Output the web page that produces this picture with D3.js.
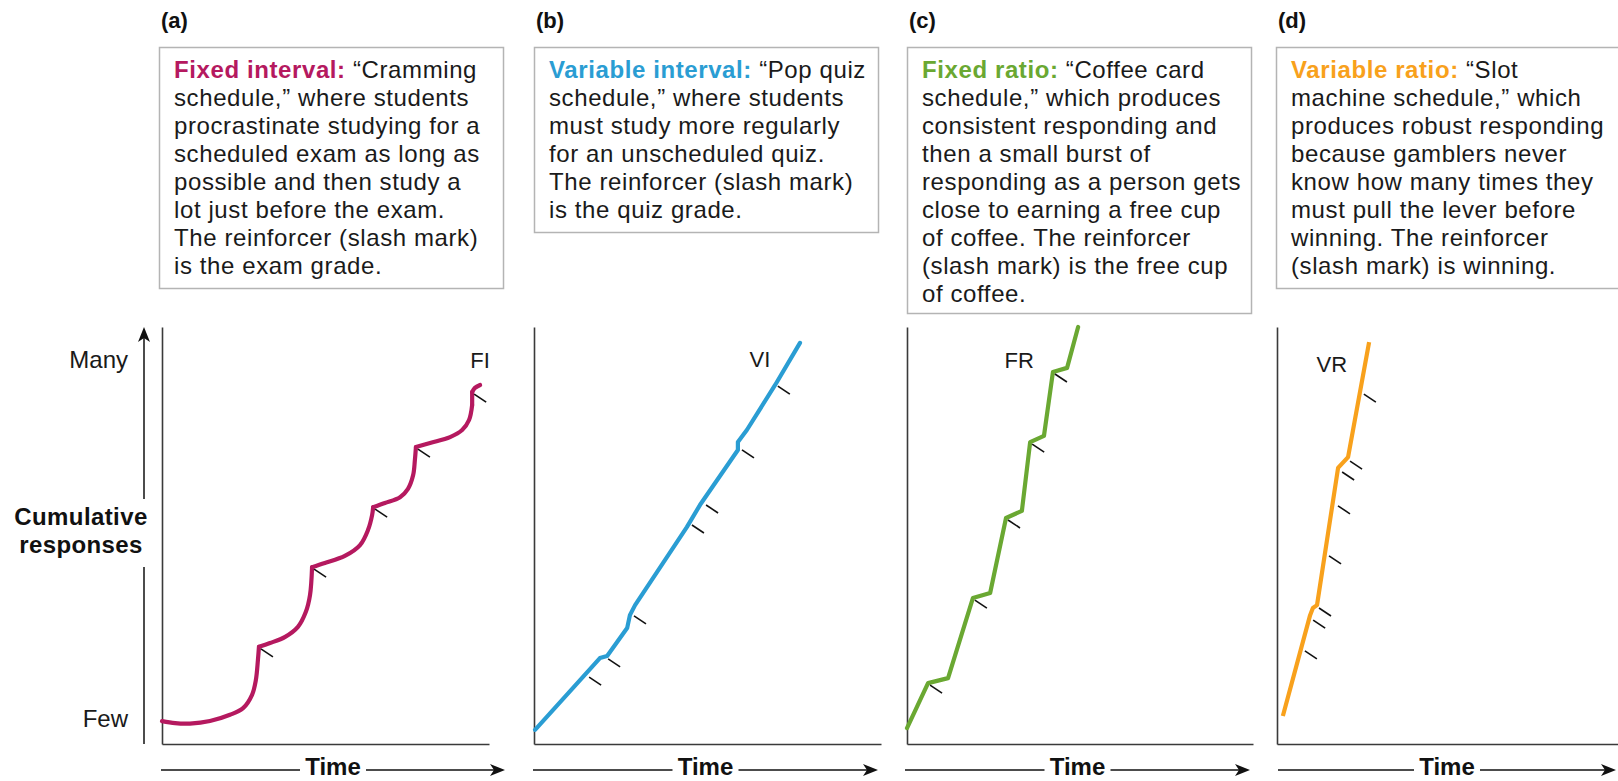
<!DOCTYPE html>
<html>
<head>
<meta charset="utf-8">
<script src="https://cdn.jsdelivr.net/npm/d3@7"></script>
<style>
  body { margin: 0; background: #fff; }
  svg { display: block; font-family: "Liberation Sans", Arial, Helvetica, sans-serif; }
</style>
</head>
<body>
<div id="chart"></div>
<script>
// ---- data (time 0-100, cumulative responses 0-100) ----
const panelLetters = ['(a)', '(b)', '(c)', '(d)'];
const scheduleNames = ['Fixed interval:', 'Variable interval:', 'Fixed ratio:', 'Variable ratio:'];
const curveLabels = ['FI', 'VI', 'FR', 'VR'];
const scheduleColors = ['#b5195f', '#2a9dd3', '#6aa832', '#f8a11c'];

const descriptions = [
    [' \u201CCramming', 'schedule,\u201D where students', 'procrastinate studying for a',
     'scheduled exam as long as', 'possible and then study a', 'lot just before the exam.',
     'The reinforcer (slash mark)', 'is the exam grade.'],
    [' \u201CPop quiz', 'schedule,\u201D where students', 'must study more regularly',
     'for an unscheduled quiz.', 'The reinforcer (slash mark)', 'is the quiz grade.'],
    [' \u201CCoffee card', 'schedule,\u201D which produces', 'consistent responding and',
     'then a small burst of', 'responding as a person gets', 'close to earning a free cup',
     'of coffee. The reinforcer', '(slash mark) is the free cup', 'of coffee.'],
    [' \u201CSlot', 'machine schedule,\u201D which', 'produces robust responding',
     'because gamblers never', 'know how many times they', 'must pull the lever before',
     'winning. The reinforcer', '(slash mark) is winning.']
];

const fiPoints = [
    [0, 5.5], [3.8, 5.0], [8.1, 4.9], [13.9, 5.5], [19.7, 7.0], [23.5, 8.6], [26.1, 11.8],
    [27.2, 15.3], [27.8, 20.1], [28.1, 23.3],
    [31.3, 24.2], [35.7, 25.7], [39.4, 28.1], [41.7, 31.7], [42.9, 35.7], [43.5, 42.4],
    [47.2, 43.4], [53.0, 45.1], [57.4, 47.7], [59.7, 51.3], [60.9, 54.9], [61.2, 56.8],
    [64.6, 57.8], [69.0, 59.2], [71.3, 61.2], [72.8, 64.5], [73.3, 68.1], [73.6, 71.2],
    [77.7, 72.2], [83.5, 73.6], [87.0, 75.3], [89.0, 77.7], [89.9, 81.3], [89.9, 84.4],
    [90.7, 85.4], [92.2, 86.1]
];
const fiReinforcers = [[28.1, 23.3], [43.5, 42.4], [61.2, 56.8], [73.6, 71.2], [89.9, 84.4]];

const viPoints = [
    [0.3, 3.4], [14.2, 16.1], [19.1, 20.6], [21.2, 21.1], [27.0, 27.8], [27.8, 30.9],
    [29.3, 33.3], [44.3, 52.0], [48.1, 57.3], [59.1, 70.5], [59.1, 72.4], [61.7, 75.3],
    [69.9, 86.1], [77.1, 96.2]
];
const viReinforcers = [[15.4, 16.5], [20.9, 20.9], [28.4, 31.2], [45.2, 53.0], [49.3, 57.8], [59.7, 71.0], [70.1, 86.3]];

const frPoints = [
    [0, 3.8], [6.1, 14.6], [11.9, 15.8], [19.1, 35.0], [24.1, 36.2], [28.7, 54.2],
    [33.3, 55.9], [35.7, 72.4], [39.7, 73.9], [42.3, 89.2], [46.4, 90.2], [49.6, 100]
];
const frReinforcers = [[6.1, 14.6], [19.1, 35.0], [28.7, 54.2], [35.7, 72.4], [42.3, 89.2]];

const vrPoints = [
    [1.7, 6.7], [9.6, 30.9], [10.4, 32.6], [11.6, 33.3], [17.7, 66.2], [20.6, 68.8], [26.7, 96.4]
];
const vrReinforcers = [[7.5, 22.8], [9.9, 30.2], [11.6, 33.1], [14.5, 45.6], [17.1, 57.6], [18.3, 65.7], [20.6, 68.3], [24.6, 84.4]];

const labelPositions = [[92.2, 90.2], [65.5, 90.4], [32.5, 90.2], [15.9, 89.2]];

const seriesPoints = [fiPoints, viPoints, frPoints, vrPoints];
const seriesReinforcers = [fiReinforcers, viReinforcers, frReinforcers, vrReinforcers];

// ---- layout ----
const width = 1618, height = 781;
const plotTop = 327, plotBottom = 744, plotW = 345;
const panels = [
    { x0: 162, axisW: 327, boxX: 159, boxH: 241, arrow: [161, 505], curved: true },
    { x0: 534, axisW: 347, boxX: 534, boxH: 185, arrow: [533, 878] },
    { x0: 907, axisW: 346, boxX: 907, boxH: 266, arrow: [905, 1250] },
    { x0: 1277, axisW: 345, boxX: 1276, boxH: 241, arrow: [1278, 1616] }
];
const boxTop = 47, boxW = 344, lineH = 28;

const svg = d3.select('#chart').append('svg')
    .attr('width', width)
    .attr('height', height);

const y = d3.scaleLinear().domain([0, 100]).range([plotBottom, plotTop]);

// split a curve into pieces that end at each reinforcer, so the corners stay sharp
function splitAt(points, marks) {
    const cuts = marks.map(m => m[0]);
    const segs = [];
    let cur = [];
    points.forEach(p => {
        cur.push(p);
        if (cuts.includes(p[0]) && cur.length > 1) {
            segs.push(cur);
            cur = [p];
        }
    });
    if (cur.length > 1) segs.push(cur);
    return segs;
}

panels.forEach((p, i) => {
    const color = scheduleColors[i];
    const x = d3.scaleLinear().domain([0, 100]).range([p.x0, p.x0 + plotW]);
    const g = svg.append('g');

    // panel letter
    g.append('text')
        .attr('x', p.boxX + 2)
        .attr('y', 28)
        .style('font-size', '22px')
        .style('font-weight', 'bold')
        .attr('fill', '#111')
        .text(panelLetters[i]);

    // description box
    const lines = descriptions[i];
    g.append('rect')
        .attr('x', p.boxX + 0.5)
        .attr('y', boxTop + 0.5)
        .attr('width', boxW)
        .attr('height', p.boxH)
        .attr('fill', 'none')
        .attr('stroke', '#b4b4b4')
        .attr('stroke-width', 1.5);

    const txt = g.append('text')
        .attr('x', p.boxX + 15)
        .attr('y', 78)
        .style('font-size', '24px')
        .style('letter-spacing', '0.6px')
        .attr('fill', '#1a1a1a');
    lines.forEach((ln, j) => {
        if (j === 0) {
            txt.append('tspan')
                .attr('x', p.boxX + 15)
                .attr('y', 78)
                .attr('fill', color)
                .style('font-weight', 'bold')
                .text(scheduleNames[i]);
            txt.append('tspan').text(ln);
        } else {
            txt.append('tspan')
                .attr('x', p.boxX + 15)
                .attr('y', 78 + j * lineH)
                .text(ln);
        }
    });

    // axes (no ticks)
    const yAxis = g.append('g')
        .attr('transform', `translate(${p.x0},0)`)
        .call(d3.axisLeft(y).tickValues([]).tickSizeOuter(0));
    const xAxisScale = d3.scaleLinear().range([p.x0, p.x0 + p.axisW]);
    const xAxis = g.append('g')
        .attr('transform', `translate(0,${plotBottom})`)
        .call(d3.axisBottom(xAxisScale).tickValues([]).tickSizeOuter(0));
    [yAxis, xAxis].forEach(a => a.select('.domain').attr('stroke', '#3a3a3a').attr('stroke-width', 1.6));

    // Time arrow
    const ay = 770;
    const mid = (p.arrow[0] + p.arrow[1]) / 2;
    g.append('line')
        .attr('x1', p.arrow[0]).attr('x2', mid - 33)
        .attr('y1', ay).attr('y2', ay)
        .attr('stroke', '#111').attr('stroke-width', 1.5);
    g.append('line')
        .attr('x1', mid + 33).attr('x2', p.arrow[1] - 6)
        .attr('y1', ay).attr('y2', ay)
        .attr('stroke', '#111').attr('stroke-width', 1.5);
    g.append('path')
        .attr('d', `M${p.arrow[1]},${ay} L${p.arrow[1] - 15},${ay - 6} L${p.arrow[1] - 11},${ay} L${p.arrow[1] - 15},${ay + 6} Z`)
        .attr('fill', '#111');
    g.append('text')
        .attr('x', mid)
        .attr('y', 775)
        .attr('text-anchor', 'middle')
        .style('font-size', '24px')
        .style('font-weight', 'bold')
        .attr('fill', '#111')
        .text('Time');

    // cumulative record
    const line = d3.line()
        .x(d => x(d[0]))
        .y(d => y(d[1]))
        .curve(p.curved ? d3.curveCatmullRom.alpha(0.5) : d3.curveLinear);
    const segs = p.curved ? splitAt(seriesPoints[i], seriesReinforcers[i]) : [seriesPoints[i]];
    g.selectAll('.record')
        .data(segs)
        .enter()
        .append('path')
        .attr('class', 'record')
        .attr('d', line)
        .attr('fill', 'none')
        .attr('stroke', color)
        .attr('stroke-width', 4.2)
        .attr('stroke-linejoin', 'round')
        .attr('stroke-linecap', i === 3 ? 'butt' : 'round');

    // reinforcer slash marks
    g.selectAll('.slash')
        .data(seriesReinforcers[i])
        .enter()
        .append('line')
        .attr('class', 'slash')
        .attr('x1', d => x(d[0]) + 2)
        .attr('y1', d => y(d[1]) + 2)
        .attr('x2', d => x(d[0]) + 14)
        .attr('y2', d => y(d[1]) + 10)
        .attr('stroke', '#111')
        .attr('stroke-width', 1.6);

    // curve label
    g.append('text')
        .attr('x', x(labelPositions[i][0]))
        .attr('y', y(labelPositions[i][1]))
        .attr('text-anchor', 'middle')
        .style('font-size', '22px')
        .attr('fill', '#1a1a1a')
        .text(curveLabels[i]);
});

// shared y-axis legend on the left
const yl = svg.append('g');
const ax = 144;
yl.append('line').attr('x1', ax).attr('x2', ax).attr('y1', plotBottom).attr('y2', 567)
    .attr('stroke', '#111').attr('stroke-width', 1.5);
yl.append('line').attr('x1', ax).attr('x2', ax).attr('y1', 499).attr('y2', plotTop + 8)
    .attr('stroke', '#111').attr('stroke-width', 1.5);
yl.append('path')
    .attr('d', `M${ax},${plotTop} L${ax - 6},${plotTop + 15} L${ax},${plotTop + 11} L${ax + 6},${plotTop + 15} Z`)
    .attr('fill', '#111');
yl.append('text').attr('x', 128).attr('y', 368).attr('text-anchor', 'end')
    .style('font-size', '24px').attr('fill', '#1a1a1a').text('Many');
yl.append('text').attr('x', 128).attr('y', 727).attr('text-anchor', 'end')
    .style('font-size', '24px').attr('fill', '#1a1a1a').text('Few');
yl.append('text').attr('x', 81).attr('y', 525).attr('text-anchor', 'middle')
    .style('font-size', '24px').style('font-weight', 'bold').style('letter-spacing', '0.4px')
    .attr('fill', '#111').text('Cumulative');
yl.append('text').attr('x', 81).attr('y', 553).attr('text-anchor', 'middle')
    .style('font-size', '24px').style('font-weight', 'bold').style('letter-spacing', '0.4px')
    .attr('fill', '#111').text('responses');
</script>
</body>
</html>
